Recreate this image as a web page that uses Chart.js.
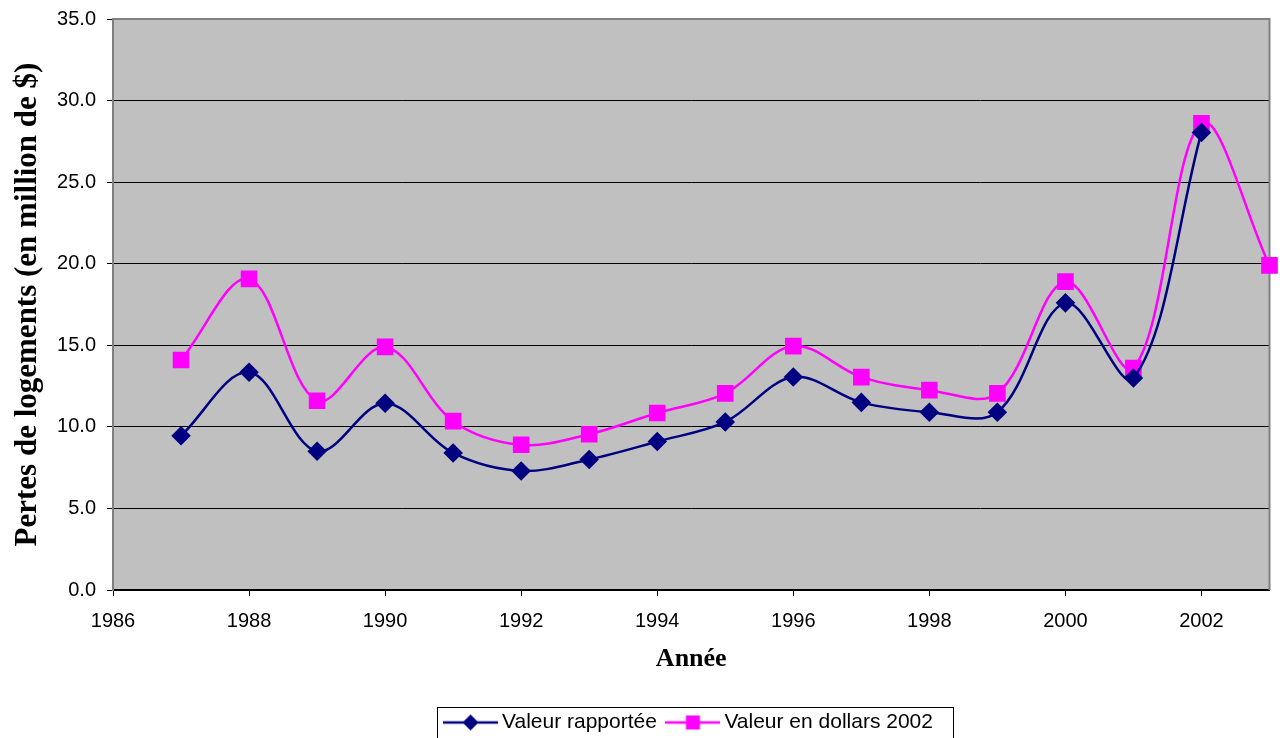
<!DOCTYPE html>
<html>
<head>
<meta charset="utf-8">
<style>
  html, body { margin: 0; padding: 0; background: #fff; }
  #wrap { width: 1282px; height: 738px; }
</style>
</head>
<body>
<div id="wrap"><canvas id="pertes-chart" width="1282" height="738"></canvas></div>
<script src="https://cdn.jsdelivr.net/npm/chart.js"></script>
<script>
  // data
  const years = [1987, 1988, 1989, 1990, 1991, 1992, 1993, 1994, 1995, 1996, 1997, 1998, 1999, 2000, 2001, 2002, 2003];
  const valeurRapportee = [9.45, 13.35, 8.5, 11.45, 8.4, 7.3, 8.0, 9.1, 10.3, 13.05, 11.5, 10.9, 10.9, 17.6, 13.0, 28.05, null];
  const valeurDollars2002 = [14.1, 19.07, 11.6, 14.9, 10.35, 8.9, 9.55, 10.85, 12.05, 14.95, 13.05, 12.25, 12.05, 18.9, 13.6, 28.6, 19.9];
  const xTicks = [1986, 1988, 1990, 1992, 1994, 1996, 1998, 2000, 2002];
  const yTicks = [0, 5, 10, 15, 20, 25, 30, 35];

  const toPoints = (vals) => years.map((y, i) => ({ x: y, y: vals[i] }));

  // legend swatch: line with the marker on it
  function swatch(color, style) {
    const c = document.createElement("canvas");
    c.width = 55; c.height = 20;
    const g = c.getContext("2d");
    g.strokeStyle = color; g.lineWidth = 2.5;
    g.beginPath(); g.moveTo(0, 10); g.lineTo(55, 10); g.stroke();
    g.fillStyle = color;
    g.beginPath();
    if (style === "diamond") {
      g.moveTo(27.5, 2); g.lineTo(35.5, 10); g.lineTo(27.5, 18); g.lineTo(19.5, 10);
    } else {
      g.rect(20.5, 3, 14, 14);
    }
    g.closePath(); g.fill();
    return c;
  }

  const plotFrame = {
    id: "plotFrame",
    beforeDraw(chart) {
      const { ctx, chartArea: a } = chart;
      ctx.save();
      ctx.fillStyle = "#C0C0C0";
      ctx.fillRect(a.left, a.top, a.right - a.left, a.bottom - a.top);
      ctx.restore();
    },
    beforeDatasetsDraw(chart) {
      const { ctx, chartArea: a } = chart;
      ctx.save();
      ctx.strokeStyle = "#808080";
      ctx.lineWidth = 2;
      ctx.beginPath();
      ctx.moveTo(a.left, a.top); ctx.lineTo(a.right, a.top); ctx.lineTo(a.right, a.bottom);
      ctx.stroke();
      ctx.restore();
    },
    afterDraw(chart) {
      const { ctx, legend } = chart;
      // box around legend
      const hb = legend.legendHitBoxes;
      if (hb && hb.length) {
        const l = Math.min(...hb.map(h => h.left)) - 12.5;
        const r = Math.max(...hb.map(h => h.left + h.width)) + 20;
        const t = hb[0].top - 5;
        ctx.save();
        ctx.strokeStyle = "#000";
        ctx.lineWidth = 1;
        ctx.strokeRect(Math.round(l) + 0.5, Math.round(t) + 0.5, Math.round(r - l), 60);
        ctx.restore();
      }
    }
  };

  const ctx = document.getElementById("pertes-chart").getContext("2d");
  const pertesChart = new Chart(ctx, {
    type: "line",
    data: {
      datasets: [
        {
          label: "Valeur rapportée",
          data: toPoints(valeurRapportee),
          borderColor: "#000080",
          backgroundColor: "#000080",
          borderWidth: 2.5,
          pointStyle: "rectRot",
          pointRadius: 8,
          pointHoverRadius: 8,
          tension: 0.35,
          fill: false,
          clip: false,
          legendSwatch: swatch("#000080", "diamond"),
        },
        {
          label: "Valeur en dollars 2002",
          data: toPoints(valeurDollars2002),
          borderColor: "#FF00FF",
          backgroundColor: "#FF00FF",
          borderWidth: 2.5,
          pointStyle: "rect",
          pointRadius: 10,
          pointHoverRadius: 10,
          tension: 0.35,
          fill: false,
          clip: false,
          legendSwatch: swatch("#FF00FF", "square"),
        },
      ],
    },
    options: {
      responsive: false,
      animation: false,
      layout: { padding: { left: 0, right: 11, top: 19, bottom: -5 } },
      plugins: {
        tooltip: { enabled: false },
        legend: {
          position: "bottom",
          fullSize: false,
          labels: {
            usePointStyle: true,
            pointStyleWidth: 42,
            padding: 15,
            color: "#000",
            font: { family: "Liberation Sans, Arial", size: 21 },
            generateLabels(chart) {
              return chart.data.datasets.map((ds, i) => ({
                text: ds.label,
                pointStyle: ds.legendSwatch,
                fillStyle: ds.borderColor,
                strokeStyle: ds.borderColor,
                lineWidth: 0,
                hidden: false,
                datasetIndex: i,
                fontColor: "#000",
              }));
            },
          },
        },
      },
      scales: {
        x: {
          type: "linear",
          min: 1986,
          max: 2003,
          afterFit(scale) { scale.height = 107; },
          afterBuildTicks(scale) { scale.ticks = xTicks.map(v => ({ value: v })); },
          ticks: {
            padding: 13,
            color: "#000",
            maxRotation: 0,
            font: { family: "Liberation Sans, Arial", size: 20 },
            callback: (v) => String(v),
          },
          grid: { drawOnChartArea: false, drawTicks: true, tickLength: 6, color: "#000", lineWidth: 1 },
          border: { display: true, color: "#000", width: 2 },
          title: {
            display: true,
            text: "Année",
            color: "#000",
            font: { family: "Liberation Serif, Times New Roman", size: 26, weight: "bold" },
            padding: { top: 0, bottom: 22 },
          },
        },
        y: {
          min: 0,
          max: 35,
          afterFit(scale) { scale.width = 113; },
          afterBuildTicks(scale) { scale.ticks = yTicks.map(v => ({ value: v })); },
          ticks: {
            padding: 11,
            color: "#000",
            font: { family: "Liberation Sans, Arial", size: 20, lineHeight: 0.8 },
            callback: (v) => Number(v).toFixed(1),
          },
          grid: { color: "#000", lineWidth: 1, tickLength: 6 },
          border: { display: true, color: "#808080", width: 2 },
          title: {
            display: true,
            text: "Pertes de logements (en million de $)",
            color: "#000",
            font: { family: "Liberation Serif, Times New Roman", size: 31, weight: "bold" },
            padding: { top: 9, bottom: 0 },
          },
        },
      },
    },
    plugins: [plotFrame],
  });
</script>
</body>
</html>
